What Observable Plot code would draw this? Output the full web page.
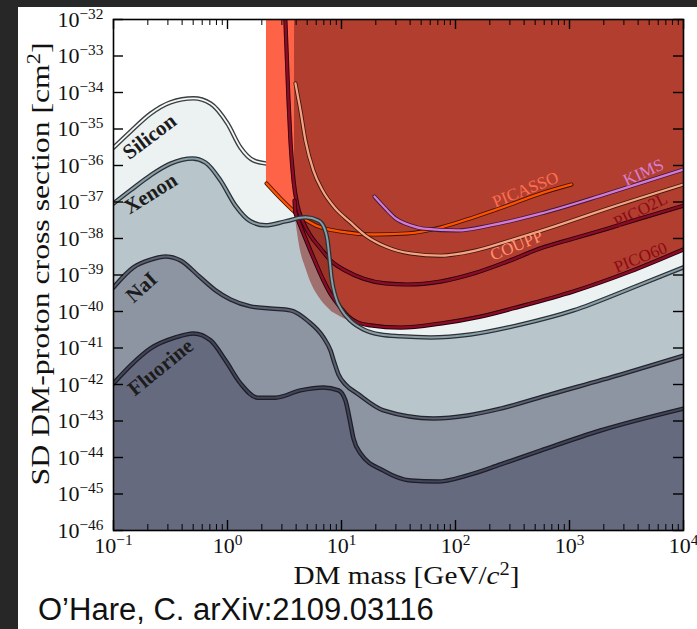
<!DOCTYPE html>
<html><head><meta charset="utf-8">
<script src="https://cdn.jsdelivr.net/npm/d3@7"></script>
<script src="https://cdn.jsdelivr.net/npm/@observablehq/plot@0.6"></script>
<style>
html,body{margin:0;padding:0;background:#272727;width:697px;height:629px;overflow:hidden}
#panel{position:absolute;left:18px;top:7px;width:679px;height:622px;background:#fff}
#wrap{position:absolute;left:18px;top:0;width:679px;height:629px}
#chart svg{display:block;overflow:visible}
#caption{font-family:"Liberation Sans",Arial,sans-serif;font-size:31px;color:#111;padding-left:20px;height:38px;line-height:38px;white-space:nowrap;background:#fff}
</style></head><body><div id="panel"></div><div id="wrap"><div id="chart"></div><div id="caption">O’Hare, C. arXiv:2109.03116</div></div>
<script>
// ---- data (log10 of mass in GeV, log10 of cross section in cm^2) ----
const xTickExps = [-1, 0, 1, 2, 3, 4];
const yTickExps = [-32, -33, -34, -35, -36, -37, -38, -39, -40, -41, -42, -43, -44, -45, -46];

const siliconLogM = [-1.0, -0.851, -0.675, -0.5, -0.298, -0.149, 0, 0.114, 0.228, 0.351, 0.509, 0.991, 1.956, 4.0];
const siliconLogS = [-35.51, -35.07, -34.58, -34.27, -34.16, -34.30, -34.85, -35.51, -35.86, -35.95, -35.59, -34.77, -33.95, -32.85];
const siliconVisible = 10;

const xenonLogM = [-1, -0.851, -0.675, -0.5, -0.307, -0.193, -0.061, 0.070, 0.202, 0.333, 0.509, 0.684, 0.798, 0.851, 0.877, 0.895, 0.912, 0.947, 1.0, 1.079, 1.193, 1.342, 1.518, 1.781, 2.132, 2.570, 3.035, 3.535, 4.0];
const xenonLogS = [-37.04, -36.68, -36.27, -35.95, -35.81, -35.92, -36.41, -37.10, -37.53, -37.64, -37.53, -37.42, -37.51, -37.73, -38.05, -38.55, -39.07, -39.59, -39.95, -40.25, -40.49, -40.63, -40.68, -40.71, -40.63, -40.36, -39.97, -39.37, -38.79];

const naiLogM = [-1, -0.825, -0.675, -0.544, -0.412, -0.237, -0.105, 0.026, 0.202, 0.377, 0.553, 0.702, 0.842, 0.904, 0.939, 0.974, 1.035, 1.140, 1.368, 1.807, 2.105, 2.395, 2.833, 3.447, 4.0];
const naiLogS = [-39.34, -38.79, -38.58, -38.49, -38.60, -39.07, -39.42, -39.67, -39.86, -39.92, -39.97, -40.25, -40.71, -41.07, -41.42, -41.73, -42.0, -42.25, -42.71, -42.93, -42.85, -42.66, -42.27, -41.73, -41.21];

const fluorineLogM = [-1, -0.851, -0.675, -0.456, -0.298, -0.149, -0.018, 0.114, 0.263, 0.421, 0.640, 0.842, 0.974, 1.035, 1.070, 1.105, 1.167, 1.368, 1.605, 1.842, 2.105, 2.395, 2.746, 3.272, 4.0];
const fluorineLogS = [-41.97, -41.48, -41.01, -40.71, -40.60, -40.79, -41.34, -41.97, -42.36, -42.36, -42.16, -42.08, -42.16, -42.44, -42.93, -43.48, -43.89, -44.36, -44.63, -44.66, -44.49, -44.19, -43.81, -43.26, -42.66];

const picassoLogM = [0.342, 0.465, 0.614, 0.772, 0.991, 1.281, 1.579, 1.868, 2.158, 2.456, 2.746, 3.018];
const picassoLogS = [-36.49, -36.90, -37.34, -37.64, -37.81, -37.89, -37.86, -37.70, -37.42, -37.10, -36.77, -36.52];

const couppLogM = [0.596, 0.640, 0.684, 0.754, 0.833, 0.947, 1.079, 1.211, 1.386, 1.605, 1.868, 2.175, 2.482, 2.789, 3.333, 4.0];
const couppLogS = [-33.75, -34.49, -35.32, -36.14, -36.68, -37.18, -37.56, -37.92, -38.22, -38.41, -38.47, -38.33, -38.05, -37.75, -37.18, -36.52];

const kimsLogM = [1.289, 1.386, 1.474, 1.605, 1.719, 2.018, 2.307, 2.746, 3.333, 4.0];
const kimsLogS = [-36.85, -37.18, -37.45, -37.64, -37.73, -37.78, -37.64, -37.32, -36.77, -36.11];

const pico2lLogM = [0.505, 0.535, 0.553, 0.579, 0.614, 0.658, 0.728, 0.816, 0.904, 1.035, 1.193, 1.386, 1.579, 1.868, 2.158, 2.456, 2.746, 3.035, 3.333, 3.623, 4.0];
const pico2lLogS = [-31.8, -34.22, -35.37, -36.41, -37.10, -37.51, -37.92, -38.27, -38.60, -38.88, -39.10, -39.23, -39.26, -39.18, -38.96, -38.63, -38.27, -38.0, -37.73, -37.45, -37.10];

const pico60LogM = [0.588, 0.596, 0.614, 0.649, 0.702, 0.772, 0.842, 0.912, 0.991, 1.061, 1.140, 1.254, 1.518, 1.868, 2.219, 2.570, 3.035, 3.535, 4.0];
const pico60LogS = [-36.96, -37.30, -37.45, -37.73, -38.14, -38.66, -39.15, -39.56, -39.89, -40.14, -40.30, -40.38, -40.44, -40.33, -40.14, -39.86, -39.45, -38.90, -38.30];

const shadeLogM = [0.596, 0.640, 0.684, 0.728, 0.798, 0.851, 0.886, 0.912, 0.956, 1.018, 1.079];
const shadeLoS = [-37.45, -38.33, -38.79, -39.18, -39.59, -39.81, -39.92, -40.0, -40.08, -40.19, -40.27];
const shadeHiS = [-37.29, -37.37, -37.42, -37.45, -37.56, -37.84, -38.33, -39.01, -39.62, -40.03, -40.25];

const elemNames = ["Silicon", "Xenon", "NaI", "Fluorine"];
const elemLabelLogM = [-0.684, -0.675, -0.754, -0.588];
const elemLabelLogS = [-35.21, -36.77, -39.34, -41.53];
const elemLabelAngle = [-37, -32, -42, -39];

const expNames = ["PICASSO", "KIMS", "PICO2L", "COUPP", "PICO60"];
const expLabelLogM = [2.614, 3.649, 3.623, 2.535, 3.623];
const expLabelLogS = [-36.66, -36.19, -37.23, -38.19, -38.52];
const expLabelAngle = [-22, -25, -27, -22, -22];
const expLabelColor = ["#ff6e4e", "#d880d4", "#8a0a16", "#ff9271", "#8a0a16"];

// ---- build ----
const pts = (lm, ls) => lm.map((m, i) => ({m: 10 ** m, s: 10 ** ls[i]}));
const silicon = pts(siliconLogM, siliconLogS);
const xenon = pts(xenonLogM, xenonLogS);
const nai = pts(naiLogM, naiLogS);
const fluorine = pts(fluorineLogM, fluorineLogS);
const picasso = pts(picassoLogM, picassoLogS);
const coupp = pts(couppLogM, couppLogS);
const kims = pts(kimsLogM, kimsLogS);
const pico2l = pts(pico2lLogM, pico2lLogS);
const pico60 = pts(pico60LogM, pico60LogS);
const shade = shadeLogM.map((m, i) => ({m: 10 ** m, lo: 10 ** shadeLoS[i], hi: 10 ** shadeHiS[i]}));
const elemLabels = elemNames.map((t, i) => ({t, m: 10 ** elemLabelLogM[i], s: 10 ** elemLabelLogS[i], r: elemLabelAngle[i]}));
const expLabels = expNames.map((t, i) => ({t, m: 10 ** expLabelLogM[i], s: 10 ** expLabelLogS[i], r: expLabelAngle[i], c: expLabelColor[i]}));

const xMajor = xTickExps.map(e => 10 ** e);
const yMajor = yTickExps.map(e => 10 ** e);
const xMinor = d3.range(-1, 4).flatMap(e => d3.range(2, 10).map(k => k * 10 ** e));
const FLOOR = 1e-47, CEIL = 1e-31;

const W = 679, H = 591, mL = 95, mR = 14, mT = 19, mB = 61;
const iw = W - mL - mR, ih = H - mT - mB;
const serif = "'Liberation Serif', 'DejaVu Serif', serif";
const sup = e => `10^{${e < 0 ? "−" : ""}${Math.abs(e)}}`;

const fillA = (data, fill) => Plot.areaY(data, {x: "m", y1: () => FLOOR, y2: "s", fill, curve: "monotone-x", clip: true});
const dbl = (data, outer, inner, wo, wi) => [
  Plot.line(data, {x: "m", y: "s", stroke: outer, strokeWidth: wo, curve: "monotone-x", clip: true}),
  Plot.line(data, {x: "m", y: "s", stroke: inner, strokeWidth: wi, curve: "monotone-x", clip: true})
];

const chart = Plot.plot({
  width: W, height: H, marginLeft: mL, marginRight: mR, marginTop: mT, marginBottom: mB,
  style: {background: "transparent", fontFamily: serif, color: "#111"},
  x: {type: "log", domain: [0.1, 1e4], axis: null, label: null},
  y: {type: "log", domain: [1e-46, 1e-32], axis: null, label: null},
  marks: [
    fillA(silicon, "#ecf1f1"),
    fillA(xenon, "#b8c5ca"),
    fillA(nai, "#8d95a3"),
    fillA(fluorine, "#666a7f"),
    dbl(silicon.slice(0, siliconVisible), "#3b3f40", "#f4f7f7", 4.5, 1.8),
    Plot.areaY(picasso, {x: "m", y1: "s", y2: () => CEIL, fill: "#ff6347", curve: "monotone-x", clip: true}),
    Plot.areaY(pico60, {x: "m", y1: "s", y2: () => CEIL, fill: "#b13e2f", curve: "monotone-x", clip: true}),
    Plot.areaY(shade, {x: "m", y1: "lo", y2: "hi", fill: "#8a2a20", fillOpacity: 0.55, curve: "monotone-x", clip: true}),
    dbl(picasso, "#3a1200", "#ff5200", 4, 2.3),
    dbl(coupp, "#3a1a10", "#f7a283", 4, 2.3),
    dbl(kims, "#3a1a3a", "#d47ad4", 4, 2.3),
    dbl(pico2l, "#22000a", "#8b0c26", 4.2, 2.5),
    dbl(pico60, "#22000a", "#8b0c26", 4.2, 2.5),
    dbl(xenon, "#2b3136", "#8a9ea6", 4.5, 2),
    dbl(nai, "#23252c", "#5c6173", 4.5, 2),
    dbl(fluorine, "#1d1e26", "#42445a", 4.5, 2),
    Plot.text(elemLabels, {x: "m", y: "s", text: "t", rotate: "r", fontSize: 21, fontWeight: "bold", fill: "#1c1c1c", fontFamily: serif}),
    Plot.text(expLabels, {x: "m", y: "s", text: "t", rotate: "r", fill: "c", fontSize: 17, fontFamily: serif}),
    Plot.tickX(xMajor, {x: d => d, insetTop: ih - 10, stroke: "#000", strokeWidth: 1.4}),
    Plot.tickX(xMajor, {x: d => d, insetBottom: ih - 10, stroke: "#000", strokeWidth: 1.4}),
    Plot.tickX(xMinor, {x: d => d, insetTop: ih - 6, stroke: "#000", strokeWidth: 1}),
    Plot.tickX(xMinor, {x: d => d, insetBottom: ih - 6, stroke: "#000", strokeWidth: 1}),
    Plot.tickY(yMajor, {y: d => d, insetRight: iw - 10, stroke: "#000", strokeWidth: 1.4}),
    Plot.tickY(yMajor, {y: d => d, insetLeft: iw - 10, stroke: "#000", strokeWidth: 1.4}),
    Plot.frame({stroke: "#000", strokeWidth: 1.6}),
    Plot.axisX(xMajor, {anchor: "bottom", label: null, tickSize: 0, tickPadding: 7, tickFormat: d => sup(Math.round(Math.log10(d))), fontSize: 22, fontFamily: serif, fill: "#111"}),
    Plot.axisY(yMajor, {anchor: "left", label: null, tickSize: 0, tickPadding: 10, tickFormat: d => sup(Math.round(Math.log10(d))), fontSize: 22, fontFamily: serif, fill: "#111"}),
    Plot.text(["DM mass [GeV/*c*^{2}]"], {frameAnchor: "bottom", textAnchor: "middle", lineAnchor: "middle", dx: 8, dy: 45, text: d => d, fontSize: 26, fontFamily: serif, fill: "#111"}),
    Plot.text(["SD DM-proton cross section [cm^{2}]"], {frameAnchor: "left", textAnchor: "middle", lineAnchor: "middle", dx: -73, dy: -11, rotate: -90, text: d => d, fontSize: 26, fontFamily: serif, fill: "#111"})
  ]
});

// render ^{..} as superscripts and *..* as italics
function richify(svg) {
  svg.querySelectorAll("text").forEach(t => {
    const s = t.textContent;
    if (!/\^\{|\*/.test(s)) return;
    const parts = s.split(/(\^\{[^}]*\}|\*[^*]+\*)/).filter(p => p !== "");
    t.textContent = "";
    let raised = false;
    for (const p of parts) {
      const ts = document.createElementNS("http://www.w3.org/2000/svg", "tspan");
      if (p.startsWith("^{")) {
        ts.textContent = p.slice(2, -1);
        ts.setAttribute("font-size", "0.7em");
        ts.setAttribute("dy", "-0.5em");
        raised = true;
      } else {
        if (p.startsWith("*")) { ts.textContent = p.slice(1, -1); ts.setAttribute("font-style", "italic"); }
        else ts.textContent = p;
        if (raised) { ts.setAttribute("dy", "0.35em"); raised = false; }
      }
      t.appendChild(ts);
    }
    if (s.startsWith("DM mass")) { t.setAttribute("textLength", 226); t.setAttribute("lengthAdjust", "spacingAndGlyphs"); }
    if (s.startsWith("SD DM")) { t.setAttribute("textLength", 443); t.setAttribute("lengthAdjust", "spacingAndGlyphs"); }
  });
}
richify(chart);
document.getElementById("chart").appendChild(chart);
</script></body></html>
